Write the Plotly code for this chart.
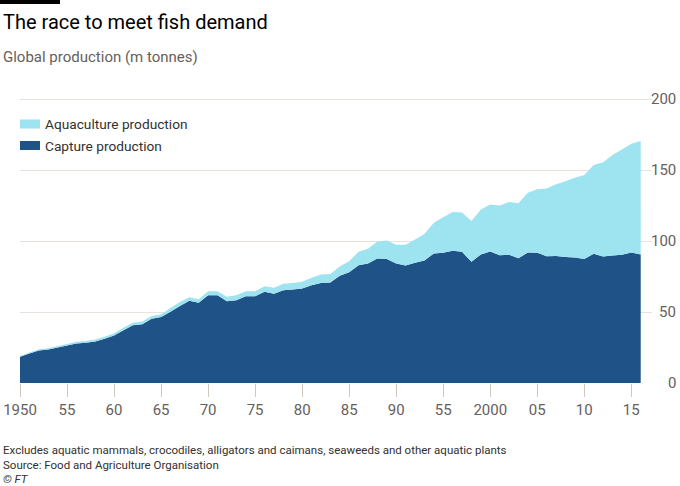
import plotly.graph_objects as go

years = list(range(1950, 2017))

capture = [18.5, 20.8, 22.9, 23.6, 25.0, 26.4, 27.8, 28.3, 29.2, 31.1,
           33.5, 37.2, 40.7, 41.4, 45.2, 46.4, 50.2, 54.3, 58.0, 56.5,
           61.8, 61.8, 57.6, 58.3, 61.1, 61.1, 64.2, 62.8, 65.4, 65.8,
           66.5, 68.9, 70.5, 70.8, 75.5, 78.0, 83.0, 84.2, 87.7, 87.4,
           84.2, 82.7, 84.6, 86.3, 91.2, 91.7, 93.1, 92.4, 85.3, 90.5,
           92.6, 90.0, 90.3, 87.9, 91.9, 91.7, 89.3, 89.5, 88.8, 88.3,
           87.4, 91.0, 89.0, 89.8, 90.3, 91.9, 90.5]

aquaculture = [0.6, 0.7, 0.8, 0.9, 1.0, 1.1, 1.2, 1.3, 1.4, 1.5,
               1.6, 1.7, 1.8, 1.9, 2.0, 2.1, 2.6, 2.8, 2.3, 2.4,
               2.9, 2.9, 3.1, 3.5, 3.6, 3.6, 4.0, 4.2, 4.5, 4.7,
               4.8, 5.2, 5.9, 6.0, 6.5, 7.8, 9.4, 10.3, 11.9, 13.0,
               13.1, 14.6, 16.4, 18.7, 21.6, 25.1, 27.4, 27.6, 28.7, 31.7,
               33.1, 35.0, 37.2, 38.6, 42.1, 44.8, 47.7, 50.5, 53.2, 56.2,
               59.1, 62.5, 66.5, 70.7, 74.2, 76.6, 80.0]

x_ticks = [1950, 1955, 1960, 1965, 1970, 1975, 1980, 1985, 1990, 1995,
           2000, 2005, 2010, 2015]
x_ticktext = ["1950", "55", "60", "65", "70", "75", "80", "85", "90", "55",
              "2000", "05", "10", "15"]
y_ticks = [0, 50, 100, 150, 200]

DARK = "#1f5387"
LIGHT = "#9de3f0"
FONT = "Roboto"

W, H = 680, 486
L, R, T, B = 20, 28, 92, 103
PW, PH = W - L - R, H - T - B
Y_MAX = PH / 1.42  # headroom above 200 so the top gridline is drawn


def px(x):
    return (x - L) / PW


def py(y):
    return (H - B - y) / PH


fig = go.Figure()
fig.add_trace(go.Scatter(x=years, y=capture, stackgroup="one", mode="none",
                         fillcolor=DARK, name="Capture production"))
fig.add_trace(go.Scatter(x=years, y=aquaculture, stackgroup="one", mode="none",
                         fillcolor=LIGHT, name="Aquaculture production"))

annotations = []
# y tick labels, right aligned
for v in y_ticks:
    annotations.append(dict(x=1, xref="paper", y=v, yref="y", text=str(v),
                            xanchor="right", yanchor="middle", xshift=R - 2,
                            showarrow=False,
                            font=dict(family=FONT, size=15, color="#66605c")))

texts = [
    ("The race to meet fish demand", 1, 22, 20, "#000000"),
    ("Global production (m tonnes)", 1, 57, 15, "#66605c"),
    ("Aquaculture production", 43, 124, 13.7, "#33302e"),
    ("Capture production", 43, 146, 13.7, "#33302e"),
    ("Excludes aquatic mammals, crocodiles, alligators and caimans, seaweeds and other aquatic plants",
     1, 450, 11.5, "#33302e"),
    ("Source: Food and Agriculture Organisation", 1, 465, 11.5, "#33302e"),
    ("<i>© FT</i>", 1, 479, 11.5, "#33302e"),
]
for t, x0, y0, size, col in texts:
    annotations.append(dict(x=px(x0), xref="paper", y=py(y0), yref="paper",
                            text=t, xanchor="left", yanchor="middle",
                            showarrow=False,
                            font=dict(family=FONT, size=size, color=col)))

shapes = [
    dict(type="rect", xref="paper", yref="paper", x0=px(0), x1=px(60),
         y0=py(0), y1=py(4), fillcolor="#000000", line=dict(width=0)),
    dict(type="rect", xref="paper", yref="paper", x0=px(20), x1=px(40),
         y0=py(119.5), y1=py(128.5), fillcolor=LIGHT, line=dict(width=0)),
    dict(type="rect", xref="paper", yref="paper", x0=px(20), x1=px(40),
         y0=py(141), y1=py(150), fillcolor=DARK, line=dict(width=0)),
]

fig.update_layout(
    width=W, height=H,
    margin=dict(l=L, r=R, t=T, b=B),
    paper_bgcolor="white", plot_bgcolor="white",
    showlegend=False,
    annotations=annotations,
    shapes=shapes,
    font=dict(family=FONT, color="#66605c"),
    xaxis=dict(range=[1950, 2017.2], tickvals=x_ticks, ticktext=x_ticktext,
               showgrid=False, zeroline=False, showline=False, automargin=False,
               ticks="outside", ticklen=13, tickcolor="#cfc7c0", tickwidth=1,
               tickfont=dict(family=FONT, size=15, color="#66605c")),
    yaxis=dict(range=[0, Y_MAX], tickvals=y_ticks, showticklabels=False,
               side="right", showgrid=True, gridcolor="#e9e2dc", gridwidth=1,
               zeroline=False, showline=False, ticks="", automargin=False),
)

# the page's default body margin shifts the figure; remove it
fig.write_html("out.html", config={"displayModeBar": False},
               post_script="document.body.style.margin='0';"
                           "document.body.style.overflow='hidden';")
